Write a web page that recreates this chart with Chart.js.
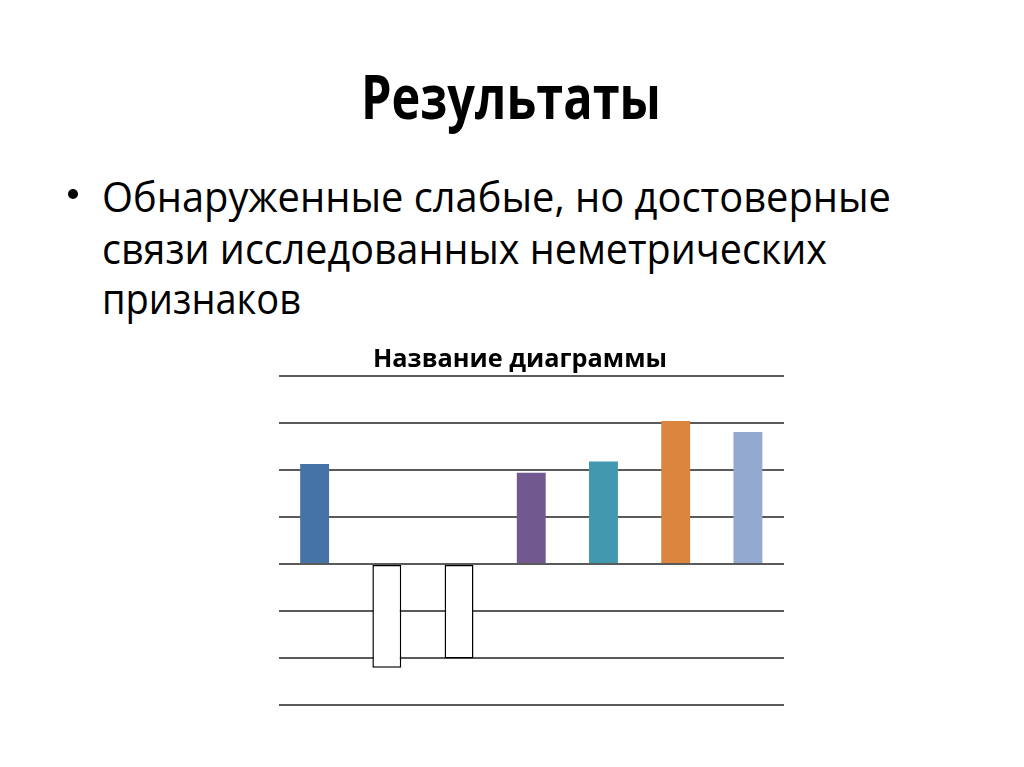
<!DOCTYPE html>
<html>
<head>
<meta charset="utf-8">
<script src="https://cdn.jsdelivr.net/npm/chart.js@4.4.1/dist/chart.umd.min.js"></script>
<style>
  html, body { margin: 0; padding: 0; background: #fff; }
  body { width: 1024px; height: 767px; position: relative; overflow: hidden; font-family: "Open Sans", sans-serif; color: #000; }
  .fit { position: absolute; white-space: nowrap; transform-origin: 0 0; display: inline-block; }
  #title { font-weight: bold; font-size: 60px; line-height: 60px; }
  .line { font-size: 42px; line-height: 51.5px; }
  #chartTitle { font-weight: bold; font-size: 25px; line-height: 25px; }
  .bullet { position: absolute; left: 68px; top: 189px; width: 10px; height: 10px; border-radius: 50%; background: #000; }
  #chartBox { position: absolute; left: 270px; top: 330px; width: 522px; height: 385px; }
</style>
</head>
<body>
<div id="title" class="fit" data-w="300" style="left:361px; top:66px;">Результаты</div>
<div class="bullet"></div>
<div class="fit line" data-w="789" style="left:102px; top:170px;">Обнаруженные слабые, но достоверные</div>
<div class="fit line" data-w="725" style="left:102px; top:221.5px;">связи исследованных неметрических</div>
<div class="fit line" data-w="199" style="left:102px; top:272px;">признаков</div>
<div id="chartBox"><canvas id="chart-area"></canvas></div>
<div id="chartTitle" class="fit" data-w="294" style="left:373px; top:344.5px;"></div>
<script>
  var categories = ['1', '2', '3', '4', '5', '6', '7'];
  var values = [2.13, -2.21, -2.01, 1.94, 2.18, 3.04, 2.81];
  var chartTitle = 'Название диаграммы';
  var yMin = -3, yMax = 4;

  var barColors = ['#4572A7', '#FFFFFF', '#FFFFFF', '#71588F', '#4198AF', '#DB843D', '#93A9CF'];
  var barBorders = [0, 1.5, 1.5, 0, 0, 0, 0];

  document.getElementById('chartTitle').textContent = chartTitle;

  function fitText() {
    document.querySelectorAll('.fit').forEach(function(el) {
      el.style.transform = 'none';
      var w = el.getBoundingClientRect().width;
      var target = parseFloat(el.getAttribute('data-w'));
      el.style.transform = 'scaleX(' + (target / w) + ')';
    });
  }

  var config = {
    type: 'bar',
    data: {
      labels: categories,
      datasets: [{
        data: values,
        backgroundColor: barColors,
        borderColor: '#000000',
        borderWidth: barBorders,
        borderSkipped: false,
        categoryPercentage: 1.0,
        barPercentage: 0.4
      }]
    },
    options: {
      responsive: true,
      maintainAspectRatio: false,
      animation: false,
      layout: { padding: { left: 8.5, right: 8, top: 46, bottom: 10 } },
      plugins: {
        legend: { display: false },
        tooltip: { enabled: false },
        title: { display: false }
      },
      scales: {
        x: { display: false },
        y: {
          min: yMin,
          max: yMax,
          ticks: { display: false, stepSize: 1 },
          border: { display: false },
          grid: { color: '#5a5a5a', lineWidth: 1.9, drawTicks: false }
        }
      }
    }
  };

  window.onload = function() {
    fitText();
    if (document.fonts && document.fonts.ready) document.fonts.ready.then(fitText);
    var ctx = document.getElementById('chart-area').getContext('2d');
    window.myBar = new Chart(ctx, config);
  };
</script>
</body>
</html>
